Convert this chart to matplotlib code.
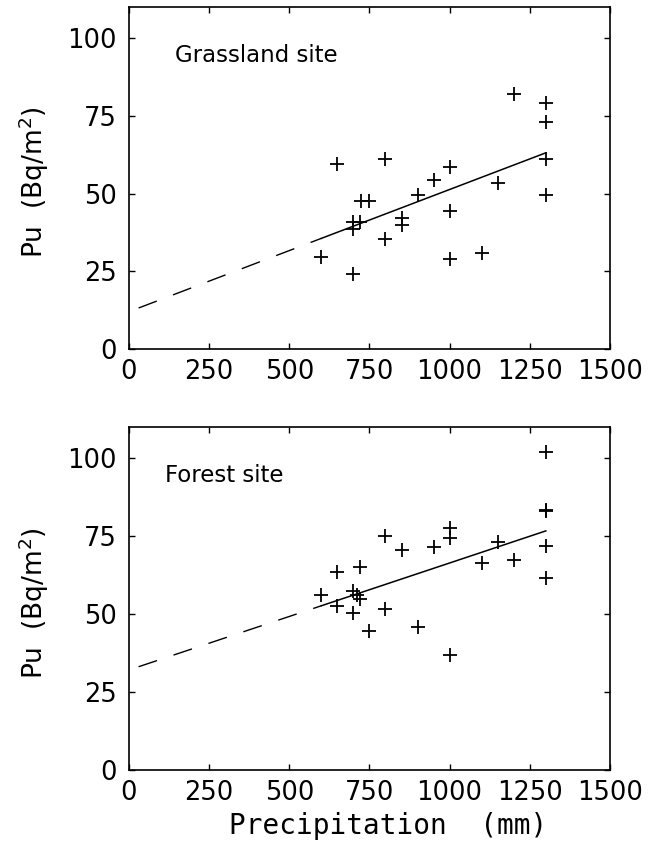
import numpy as np
import matplotlib
matplotlib.use('Agg')
from matplotlib import pyplot as plt

# grassland site
grass_precip = [600, 650, 700, 700, 700, 720, 725, 750, 800, 800, 850, 850,
                900, 950, 1000, 1000, 1000, 1100, 1150, 1200, 1300, 1300, 1300, 1300]
grass_pu = [29.5, 59.5, 24, 38.5, 41, 41, 47.5, 47.5, 61, 35.5, 42, 40,
            49.5, 54.5, 58.5, 44.5, 29, 31, 53.5, 82, 79, 73, 61, 49.5]

# forest site
forest_precip = [600, 650, 650, 700, 700, 710, 720, 720, 750, 800, 800, 850, 900,
                 950, 1000, 1000, 1000, 1100, 1150, 1200, 1300, 1300, 1300, 1300, 1300]
forest_pu = [56, 63.5, 52.5, 50.5, 57.5, 56, 65, 55, 44.5, 75, 51.5, 70.5, 46,
             71.5, 77.5, 74.5, 37, 66.5, 73, 67.5, 102, 83.5, 83, 72, 61.5]

# regression lines (intercept, slope), solid over the data range, dashed back toward 0
grass_fit = (12.0, 0.0393)
forest_fit = (32.1, 0.0343)
fit_solid = [600, 1300]
fit_dashed = [30, 600]

site_names = ['Grassland site', 'Forest site']
x_ticks = [0, 250, 500, 750, 1000, 1250, 1500]
y_ticks = [0, 25, 50, 75, 100]

plt.rcParams['lines.scale_dashes'] = False

fig = plt.figure(figsize=(6.56, 8.52), dpi=100)
ax1 = fig.add_axes([0.1966, 0.5904, 0.7332, 0.4014])
ax2 = fig.add_axes([0.1966, 0.0962, 0.7332, 0.4026])

panels = [(ax1, grass_precip, grass_pu, grass_fit, site_names[0], 143),
          (ax2, forest_precip, forest_pu, forest_fit, site_names[1], 112)]

for ax, xs, ys, fit, name, tx in panels:
    ax.plot(xs, ys, linestyle='none', marker='+', markersize=10,
            markeredgewidth=1.3, color='black')
    b, m = fit
    xs_solid = np.array(fit_solid, dtype=float)
    xs_dash = np.array(fit_dashed, dtype=float)
    ax.plot(xs_solid, b + m * xs_solid, color='black', lw=1.1)
    ax.plot(xs_dash, b + m * xs_dash, color='black', lw=1.0, dashes=(14, 12.5))

    ax.set_xlim(0, 1500)
    ax.set_ylim(0, 110)
    ax.set_xticks(x_ticks)
    ax.set_yticks(y_ticks)
    ax.tick_params(direction='in', top=True, right=True, length=4, width=1.0,
                   labelsize=18.5)
    ax.tick_params(axis='y', pad=9)
    ax.tick_params(axis='x', pad=7)
    for sp in ax.spines.values():
        sp.set_linewidth(1.2)

    ax.text(tx, 94.5, name, fontsize=16.5, va='center', ha='left')
    ax.text(-0.1975, 0.488, 'Pu  (Bq/m$^2$)', transform=ax.transAxes,
            rotation=90, ha='center', va='center', fontsize=19)

fig.text(0.591, 0.031, 'Precipitation  (mm)', ha='center', va='center',
         fontsize=20, family='DejaVu Sans Mono')

fig.savefig('out.png', dpi=100, facecolor='white')
